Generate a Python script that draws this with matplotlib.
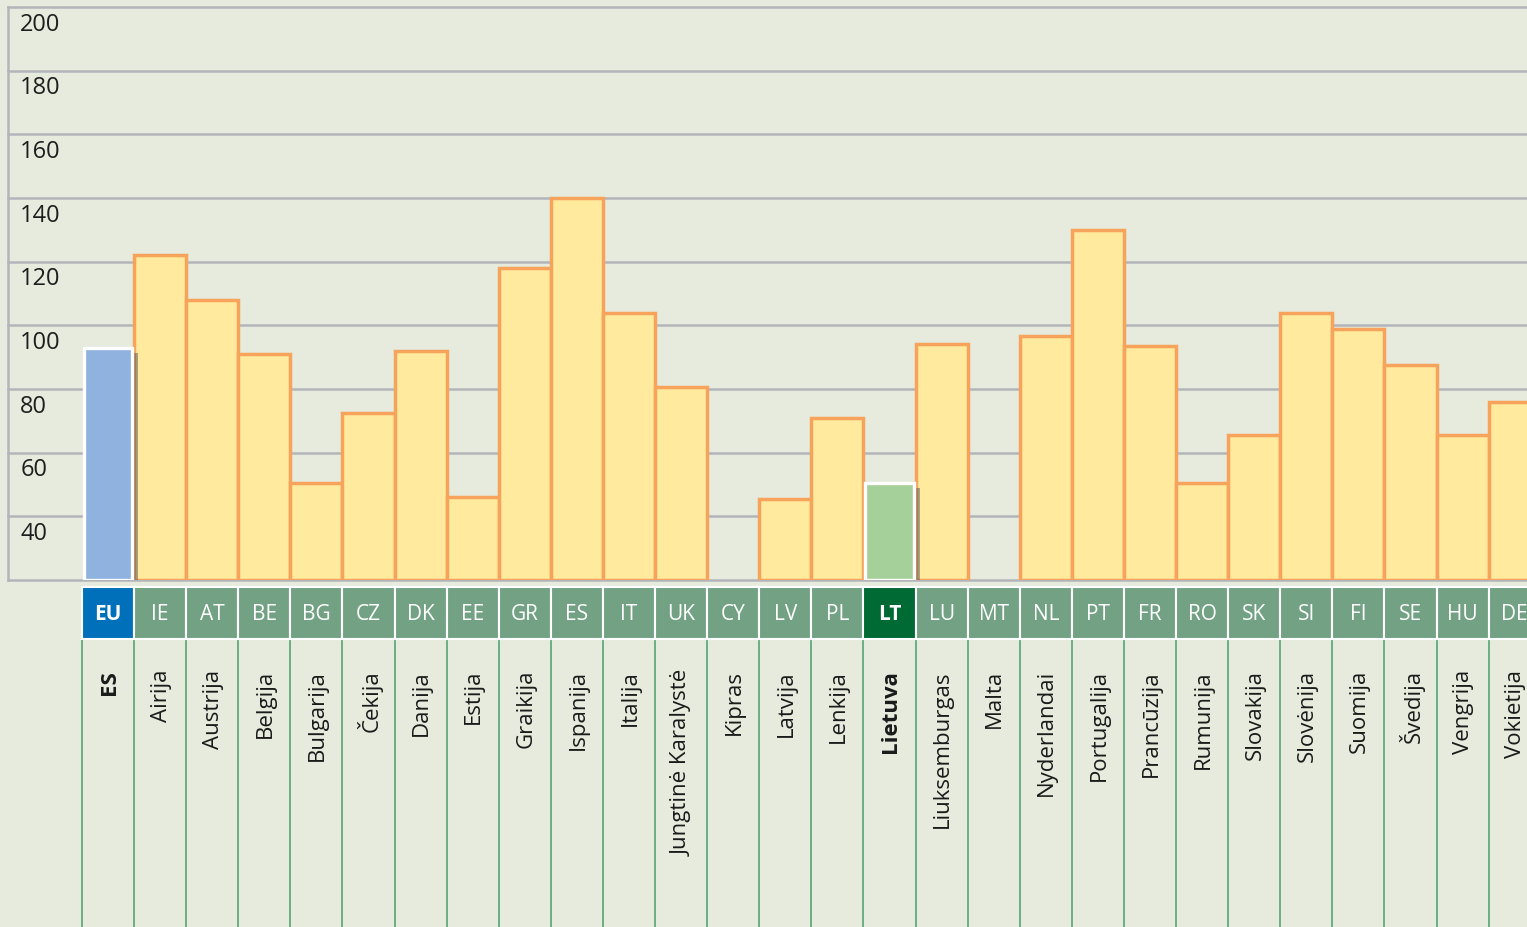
import matplotlib
matplotlib.use("Agg")
import matplotlib.pyplot as plt
import matplotlib.patheffects as pe
import matplotlib.transforms as mtransforms
import numpy as np

plt.rcParams["font.family"] = ["Open Sans", "DejaVu Sans"]

# ---------------------------------------------------------------------------
# Data
# ---------------------------------------------------------------------------
codes = ["EU", "IE", "AT", "BE", "BG", "CZ", "DK", "EE", "GR", "ES", "IT", "UK",
         "CY", "LV", "PL", "LT", "LU", "MT", "NL", "PT", "FR", "RO", "SK", "SI",
         "FI", "SE", "HU", "DE"]
names = ["ES", "Airija", "Austrija", "Belgija", "Bulgarija", "Čekija", "Danija",
         "Estija", "Graikija", "Ispanija", "Italija", "Jungtinė Karalystė",
         "Kipras", "Latvija", "Lenkija", "Lietuva", "Liuksemburgas", "Malta",
         "Nyderlandai", "Portugalija", "Prancūzija", "Rumunija", "Slovakija",
         "Slovėnija", "Suomija", "Švedija", "Vengrija", "Vokietija"]
values = [93, 122, 108, 91, 50.5, 72.5, 92, 46, 118, 140, 104, 80.5,
          np.nan, 45.5, 71, 50.5, 94, np.nan, 96.5, 130, 93.5, 50.5, 65.5, 104,
          99, 87.5, 65.5, 76]
y_ticks = [40, 60, 80, 100, 120, 140, 160, 180, 200]
highlight = {"EU": ("#8fb2de", "#0070bb"), "LT": ("#a6d09a", "#006a35")}

BG = "#e6ebdd"
GRID = "#b3b5ba"
BAR_FILL = "#ffea9e"
BAR_EDGE = "#f7a35c"
CODE_BOX = "#72a283"
BASE = 20

W, H = 1527, 928
fig = plt.figure(figsize=(W / 100, H / 100), dpi=100, facecolor=BG)

# slot geometry (x in category units)
slot_px = 52.1
x0_px = 108
left_px = 8
xmin = (left_px - x0_px) / slot_px
xmax = (W - x0_px) / slot_px

ax = fig.add_axes([left_px / W, (H - 581) / H, 1 - left_px / W, (581 - 8) / H])
ax.set_facecolor(BG)
ax.set_xlim(xmin, xmax)
ax.set_ylim(BASE, 200)
for s in ["top", "right"]:
    ax.spines[s].set_visible(False)
for s in ["left", "bottom"]:
    ax.spines[s].set_color(GRID)
    ax.spines[s].set_linewidth(1.8)
ax.set_xticks([])
ax.set_yticks([])

label_tr = mtransforms.blended_transform_factory(ax.transAxes, ax.transData)
for t in y_ticks:
    ax.axhline(t, color=GRID, linewidth=1.8, zorder=1, clip_on=False)
    ax.text(0.008, t - 5.2, str(t), transform=label_tr,
            ha="left", va="center", fontsize=17, color="#1e1e1e")

x = np.arange(len(codes))
for xi, code, v in zip(x, codes, values):
    if np.isnan(v):
        continue
    if code in highlight:
        ax.bar(xi, v - BASE, bottom=BASE, width=0.94, color=highlight[code][0],
               edgecolor="white", linewidth=2.4, zorder=5,
               path_effects=[pe.SimplePatchShadow(offset=(4, -4), alpha=0.5,
                                                  shadow_rgbFace="#555555"),
                             pe.Normal()])
    else:
        ax.bar(xi, v - BASE, bottom=BASE, width=1.0, color=BAR_FILL,
               edgecolor=BAR_EDGE, linewidth=2.5, zorder=3)

# ---------------------------------------------------------------------------
# Label area
# ---------------------------------------------------------------------------
lab = fig.add_axes([left_px / W, 0, 1 - left_px / W, (H - 586) / H])
lab.set_xlim(xmin, xmax)
lab.set_ylim(H, 586)
lab.axis("off")

for xi, code, name in zip(x, codes, names):
    face = highlight[code][1] if code in highlight else CODE_BOX
    bold = code in highlight
    lab.add_patch(plt.Rectangle((xi - 0.5, 588), 1.0, 52, facecolor=face,
                                edgecolor="white", linewidth=1.5, zorder=2))
    lab.text(xi, 615, code, ha="center", va="center", color="white",
             fontsize=15, fontweight="bold" if bold else "normal", zorder=3)
    lab.plot([xi - 0.5, xi - 0.5], [641, H], color="#3f9a63", linewidth=1.3,
             alpha=0.8, zorder=1)
    lab.text(xi + 0.02, 670, name, rotation=90, ha="center", va="top",
             fontsize=16, color="#1a1a1a",
             fontweight="bold" if bold else "normal")

fig.savefig("out.png", dpi=100, facecolor=BG)
